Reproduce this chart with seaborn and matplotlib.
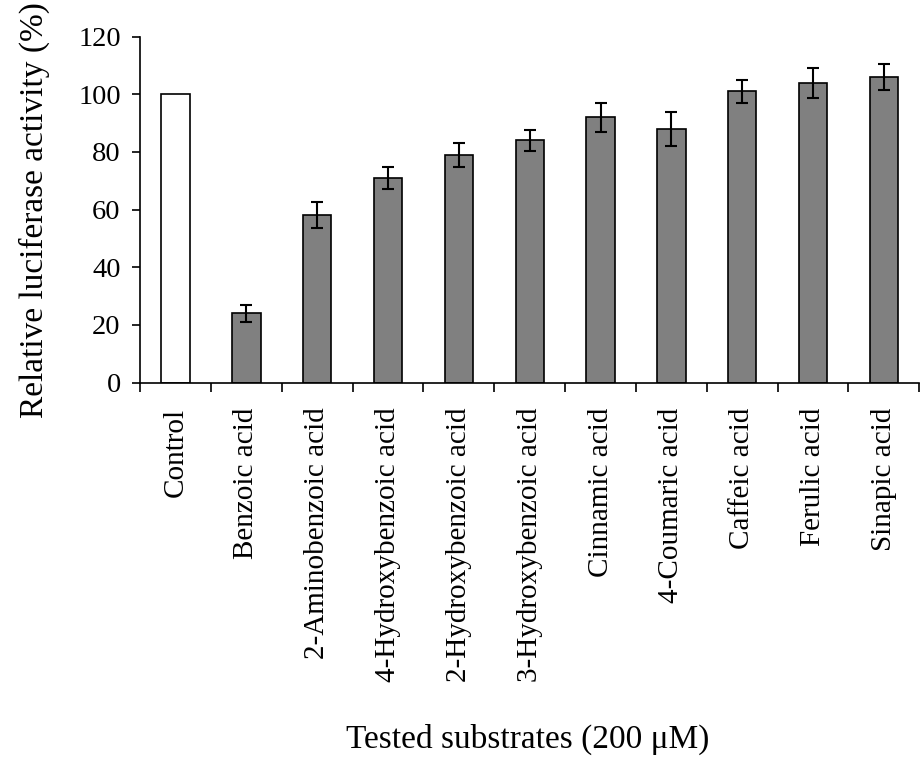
import numpy as np
import pandas as pd
import matplotlib
matplotlib.use("Agg")
import matplotlib.pyplot as plt
import seaborn as sns

# values
substrates = ["Control", "Benzoic acid", "2-Aminobenzoic acid", "4-Hydroxybenzoic acid",
              "2-Hydroxybenzoic acid", "3-Hydroxybenzoic acid", "Cinnamic acid",
              "4-Coumaric acid", "Caffeic acid", "Ferulic acid", "Sinapic acid"]
activity = [100, 24, 58, 71, 79, 84, 92, 88, 101, 104, 106]
errors = [0, 3.0, 4.5, 3.7, 4.1, 3.8, 4.9, 5.9, 4.0, 5.2, 4.6]
bar_colors = ["white"] + ["#808080"] * 10

sns.set_style("white")
plt.rcParams["font.family"] = ["Liberation Serif", "DejaVu Serif"]
plt.rcParams["text.color"] = "black"
plt.rcParams["axes.labelcolor"] = "black"
plt.rcParams["xtick.color"] = "black"
plt.rcParams["ytick.color"] = "black"

df = pd.DataFrame({"substrate": substrates, "activity": activity, "err": errors})

fig = plt.figure(figsize=(9.22, 7.65), dpi=100)
ax = fig.add_axes([0.152, 0.5, 0.845, 0.452])

sns.barplot(data=df, x="substrate", y="activity", hue="substrate",
            palette=bar_colors, legend=False, width=0.4,
            edgecolor="black", linewidth=1.2, ax=ax)

# error bars (control has none)
xpos = np.arange(len(substrates))
mask = df["err"] > 0
ax.errorbar(xpos[mask], df["activity"][mask], yerr=df["err"][mask], fmt="none",
            ecolor="black", elinewidth=1.5, capsize=4, capthick=1.5)

ax.set_xlim(-0.5, len(substrates) - 0.5)
ax.set_ylim(0, 120)
ax.set_yticks(range(0, 121, 20))

# ticks between categories, like the original
ax.set_xticks(np.arange(-0.5, len(substrates), 1.0), minor=True)
ax.tick_params(axis="x", which="major", length=0, pad=18, labelsize=21, labelrotation=90)
ax.tick_params(axis="x", which="minor", length=6.5, width=1.2, direction="out", bottom=True)
ax.tick_params(axis="y", length=6, width=1.2, direction="out", left=True, labelsize=20.5, pad=8)

for s in ["top", "right"]:
    ax.spines[s].set_visible(False)
for s in ["left", "bottom"]:
    ax.spines[s].set_color("black")
    ax.spines[s].set_linewidth(1.2)

ax.set_ylabel("Relative luciferase activity (%)", fontsize=24, labelpad=20)
ax.set_xlabel("")
fig.text(0.572, 0.034, "Tested substrates (200 μM)", ha="center", va="center", fontsize=24)

fig.savefig("out.png", dpi=100, facecolor="white")
